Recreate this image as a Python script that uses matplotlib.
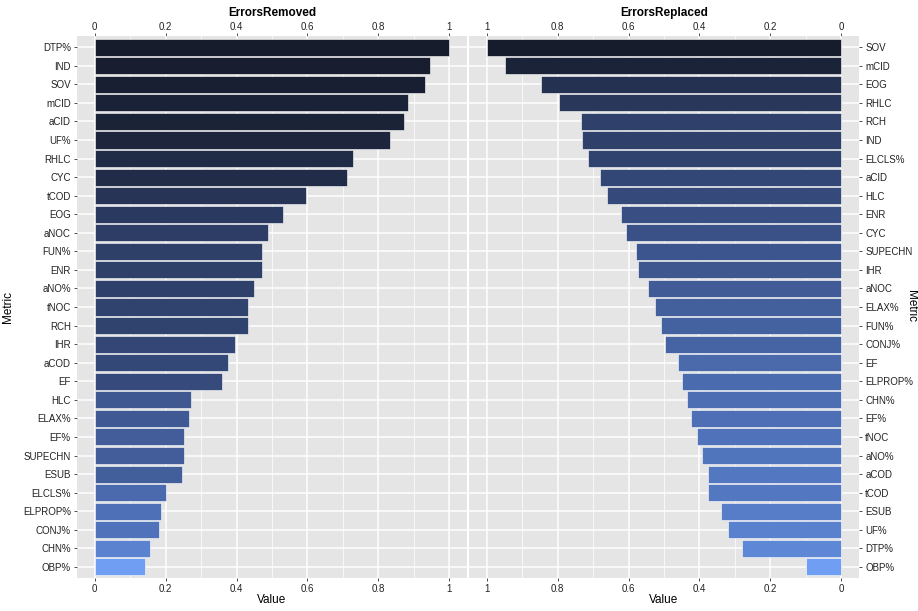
import matplotlib
matplotlib.use("Agg")
import matplotlib.pyplot as plt
from matplotlib.colors import LinearSegmentedColormap, PowerNorm
from matplotlib.ticker import FuncFormatter, MultipleLocator

plt.rcParams['font.family'] = ['Liberation Sans', 'DejaVu Sans']

# === DATA ===
removed_metrics = ["DTP%", "IND", "SOV", "mCID", "aCID", "UF%", "RHLC", "CYC", "tCOD",
                   "EOG", "aNOC", "FUN%", "ENR", "aNO%", "tNOC", "RCH", "IHR", "aCOD",
                   "EF", "HLC", "ELAX%", "EF%", "SUPECHN", "ESUB", "ELCLS%", "ELPROP%",
                   "CONJ%", "CHN%", "OBP%"]
removed_values = [1.0, 0.946, 0.932, 0.884, 0.873, 0.833, 0.729, 0.712, 0.596,
                  0.531, 0.489, 0.472, 0.472, 0.449, 0.432, 0.432, 0.395, 0.376,
                  0.359, 0.271, 0.266, 0.251, 0.251, 0.246, 0.202, 0.186,
                  0.181, 0.155, 0.141]

replaced_metrics = ["SOV", "mCID", "EOG", "RHLC", "RCH", "IND", "ELCLS%", "aCID", "HLC",
                    "ENR", "CYC", "SUPECHN", "IHR", "aNOC", "ELAX%", "FUN%", "CONJ%", "EF",
                    "ELPROP%", "CHN%", "EF%", "tNOC", "aNO%", "aCOD", "tCOD", "ESUB",
                    "UF%", "DTP%", "OBP%"]
replaced_values = [1.0, 0.949, 0.847, 0.797, 0.734, 0.732, 0.715, 0.681, 0.661,
                   0.621, 0.607, 0.579, 0.573, 0.545, 0.525, 0.508, 0.497, 0.460,
                   0.449, 0.435, 0.424, 0.407, 0.393, 0.376, 0.376, 0.339,
                   0.319, 0.280, 0.099]

# light -> dark blue gradient
cmap = LinearSegmentedColormap.from_list(
    "blues", ["#6f9ef3", "#5276bf", "#3a5187", "#283659", "#161c2c"])

PANEL_BG = "#e5e5e5"
TEXT_COL = "#222222"
fmt = FuncFormatter(lambda v, p: f"{v:g}")


def style_axes(ax, reverse=False):
    ax.set_facecolor(PANEL_BG)
    for s in ax.spines.values():
        s.set_visible(False)
    if reverse:
        ax.set_xlim(1.05, -0.05)
    else:
        ax.set_xlim(-0.05, 1.05)
    ax.xaxis.set_major_locator(MultipleLocator(0.2))
    ax.xaxis.set_minor_locator(MultipleLocator(0.1))
    ax.xaxis.set_major_formatter(fmt)
    ax.grid(True, which="major", color="white", linewidth=1.1)
    ax.grid(True, which="minor", axis="x", color="white", linewidth=0.5)
    ax.set_axisbelow(True)
    ax.tick_params(axis="x", which="major", length=2.5, width=0.6, color="#333333",
                   labelsize=7, labelcolor=TEXT_COL, pad=2)
    ax.tick_params(axis="x", which="minor", length=0)
    ax.tick_params(axis="y", length=2.5, width=0.6, color="#333333",
                   labelsize=7, labelcolor=TEXT_COL, pad=2)
    # duplicated value axis on top
    top = ax.secondary_xaxis("top")
    top.xaxis.set_major_locator(MultipleLocator(0.2))
    top.xaxis.set_major_formatter(fmt)
    top.tick_params(axis="x", length=2.2, width=0.6, color="#333333",
                    labelsize=7, labelcolor=TEXT_COL, pad=0.5)
    top.spines["top"].set_visible(False)


fig = plt.figure(figsize=(9.18, 6.11), dpi=100)
ax1 = fig.add_axes([0.0839, 0.054, 0.4248, 0.887])
ax2 = fig.add_axes([0.5109, 0.054, 0.4248, 0.887])

# ---- Left panel: ErrorsRemoved ----
n = len(removed_metrics)
ypos = list(range(n))
norm1 = PowerNorm(0.42, vmin=min(removed_values), vmax=max(removed_values))
ax1.barh(ypos, removed_values, height=0.92,
         color=[cmap(norm1(v)) for v in removed_values],
         edgecolor="white", linewidth=0.4)
ax1.set_yticks(ypos)
ax1.set_yticklabels(removed_metrics)
ax1.set_ylim(n - 0.4, -0.6)
style_axes(ax1)
ax1.set_xlabel("Value", fontsize=8.5, labelpad=0)
ax1.set_ylabel("Metric", fontsize=8.5, labelpad=6)

# ---- Right panel: ErrorsReplaced ----
m = len(replaced_metrics)
ypos2 = list(range(m))
norm2 = PowerNorm(1.2, vmin=min(replaced_values), vmax=max(replaced_values))
ax2.barh(ypos2, replaced_values, height=0.92,
         color=[cmap(norm2(v)) for v in replaced_values],
         edgecolor="white", linewidth=0.4)
ax2.set_yticks(ypos2)
ax2.set_yticklabels(replaced_metrics)
ax2.set_ylim(m - 0.4, -0.6)
style_axes(ax2, reverse=True)
ax2.yaxis.tick_right()
ax2.yaxis.set_label_position("right")
ax2.set_xlabel("Value", fontsize=8.5, labelpad=0)

# panel titles above the top tick labels
for ax, title in [(ax1, "ErrorsRemoved"), (ax2, "ErrorsReplaced")]:
    ax.text(0.5, 1.031, title, transform=ax.transAxes, ha="center", va="bottom",
            fontsize=8.5, fontweight="bold", color="black")

fig.text(0.9925, 0.5, "Metric", rotation=270, ha="center", va="center",
         fontsize=8.5, color="black")

plt.savefig("out.png", dpi=100)
plt.close(fig)
